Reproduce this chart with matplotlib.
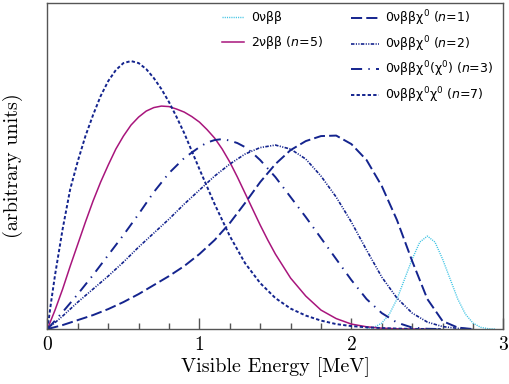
import matplotlib
matplotlib.use('Agg')
import matplotlib.pyplot as plt
from matplotlib.ticker import MultipleLocator

plt.rcParams['lines.scale_dashes'] = False
plt.rcParams['mathtext.fontset'] = 'dejavusans'

# visible energy [MeV] vs. spectrum height (arbitrary units)
e_0nu = [2.1, 2.15, 2.2, 2.25, 2.3, 2.35, 2.4, 2.45, 2.5, 2.55, 2.6, 2.65, 2.7, 2.75, 2.8, 2.85, 2.9, 2.95]
s_0nu = [0.004, 0.018, 0.06, 0.15, 0.30, 0.50, 0.70, 0.87, 0.93, 0.87, 0.70, 0.50, 0.30, 0.15, 0.06, 0.018, 0.004, 0.0]

e_2nu = [0, 0.05, 0.1, 0.15, 0.2, 0.25, 0.3, 0.35, 0.4, 0.45, 0.5, 0.55, 0.6, 0.65, 0.7, 0.75, 0.8,
         0.85, 0.9, 0.95, 1.0, 1.05, 1.1, 1.15, 1.2, 1.25, 1.3, 1.35, 1.4, 1.45, 1.5, 1.6, 1.7, 1.8,
         1.9, 2.0, 2.1, 2.2, 2.3, 2.4, 2.5]
s_2nu = [0, 0.19, 0.40, 0.63, 0.85, 1.07, 1.28, 1.47, 1.64, 1.80, 1.93, 2.04, 2.12, 2.18, 2.215, 2.23, 2.225,
         2.20, 2.17, 2.125, 2.07, 1.995, 1.91, 1.80, 1.67, 1.52, 1.36, 1.20, 1.04, 0.89, 0.75, 0.51, 0.33, 0.19,
         0.105, 0.05, 0.023, 0.009, 0.003, 0.001, 0]

e_n1 = [0, 0.1, 0.2, 0.3, 0.4, 0.5, 0.6, 0.7, 0.8, 0.9, 1.0, 1.1, 1.2, 1.3, 1.4, 1.5, 1.6, 1.7, 1.8,
        1.9, 2.0, 2.1, 2.2, 2.3, 2.4, 2.5, 2.6, 2.7, 2.8]
s_n1 = [0, 0.04, 0.09, 0.14, 0.20, 0.27, 0.35, 0.44, 0.53, 0.63, 0.75, 0.89, 1.06, 1.26, 1.47, 1.65, 1.79, 1.88, 1.93,
        1.935, 1.85, 1.69, 1.43, 1.09, 0.68, 0.30, 0.08, 0.015, 0]

e_n2 = [0, 0.1, 0.2, 0.3, 0.4, 0.5, 0.6, 0.7, 0.8, 0.9, 1.0, 1.1, 1.2, 1.3, 1.4, 1.5, 1.6, 1.7, 1.8,
        1.9, 2.0, 2.1, 2.2, 2.3, 2.4, 2.5, 2.6, 2.7, 2.8]
s_n2 = [0, 0.13, 0.27, 0.40, 0.53, 0.67, 0.82, 0.96, 1.10, 1.25, 1.39, 1.53, 1.65, 1.75, 1.815, 1.84, 1.80, 1.70, 1.53,
        1.32, 1.07, 0.79, 0.52, 0.31, 0.16, 0.07, 0.025, 0.007, 0]

e_n3 = [0, 0.1, 0.2, 0.3, 0.4, 0.5, 0.6, 0.7, 0.8, 0.9, 1.0, 1.05, 1.1, 1.15, 1.2, 1.25, 1.3, 1.35, 1.4,
        1.5, 1.6, 1.7, 1.8, 1.9, 2.0, 2.1, 2.2, 2.3, 2.4, 2.5, 2.6]
s_n3 = [0, 0.17, 0.35, 0.54, 0.74, 0.94, 1.15, 1.37, 1.56, 1.71, 1.82, 1.865, 1.89, 1.90, 1.885, 1.86, 1.82, 1.76, 1.69,
        1.52, 1.32, 1.12, 0.91, 0.70, 0.49, 0.30, 0.16, 0.065, 0.015, 0.003, 0]

e_n7 = [0, 0.025, 0.05, 0.1, 0.15, 0.2, 0.25, 0.3, 0.35, 0.4, 0.45, 0.5, 0.55, 0.6, 0.65, 0.7, 0.75, 0.8, 0.85,
        0.9, 1.0, 1.1, 1.2, 1.3, 1.4, 1.5, 1.6, 1.7, 1.8, 1.9, 2.0, 2.1, 2.2, 2.3, 2.4, 2.6]
s_n7 = [0, 0.28, 0.54, 1.00, 1.40, 1.68, 1.93, 2.14, 2.33, 2.48, 2.59, 2.66, 2.68, 2.66, 2.60, 2.51, 2.40, 2.27, 2.12,
        1.96, 1.60, 1.25, 0.93, 0.66, 0.46, 0.31, 0.205, 0.135, 0.085, 0.05, 0.03, 0.018, 0.01, 0.005, 0.002, 0]

NAVY = '#14248e'
CYAN = '#3fc4e4'
MAGENTA = '#a8157c'
GREY = '#555555'

fig = plt.figure(figsize=(5.1, 3.84), dpi=100)
ax = fig.add_axes([0.093, 0.143, 0.894, 0.849])

l0, = ax.plot(e_0nu, s_0nu, color=CYAN, lw=1.0, ls=(0, (0.8, 0.8)), label='0νββ')
l2, = ax.plot(e_2nu, s_2nu, color=MAGENTA, lw=1.1, label='2νββ ($n$=5)')
l1, = ax.plot(e_n1, s_n1, color=NAVY, lw=1.4, ls=(0, (8, 3)), label='0νββχ$^0$ ($n$=1)')
ln2, = ax.plot(e_n2, s_n2, color=NAVY, lw=1.2, ls=(0, (2.5, 1, 0.8, 1, 0.8, 1)),
               label='0νββχ$^0$ ($n$=2)')
l3, = ax.plot(e_n3, s_n3, color=NAVY, lw=1.4, ls=(0, (8, 4.5, 1, 4.5)),
              label='0νββχ$^0$(χ$^0$) ($n$=3)')
l7, = ax.plot(e_n7, s_n7, color=NAVY, lw=1.4, ls=(0, (2.4, 1.6)), label='0νββχ$^0$χ$^0$ ($n$=7)')

ax.set_xlim(0, 3)
ax.set_ylim(0, 3.26)
ax.set_yticks([])
ax.set_xticks([0, 1, 2, 3])
ax.xaxis.set_minor_locator(MultipleLocator(0.2))
ax.tick_params(axis='x', which='major', direction='in', length=8, width=1, color=GREY,
               labelsize=14, labelfontfamily='cmr10', pad=5)
ax.tick_params(axis='x', which='minor', direction='in', length=4, width=1, color=GREY)
for sp in ax.spines.values():
    sp.set_color(GREY)
    sp.set_linewidth(1.0)

ax.set_xlabel('Visible Energy [MeV]', fontsize=14.5, fontfamily='cmr10', labelpad=2)
ax.set_ylabel('(arbitrary units)', fontsize=14.5, fontfamily='cmr10')
ax.yaxis.set_label_coords(-0.053, 0.5)

leg_kw = dict(loc='upper left', frameon=False, borderpad=0, borderaxespad=0,
              prop={'family': 'DejaVu Sans', 'size': 9})
leg1 = ax.legend(handles=[l0, l2], bbox_to_anchor=(0.383, 0.976), handlelength=1.75,
                 handletextpad=0.6, labelspacing=0.8, **leg_kw)
ax.add_artist(leg1)
ax.legend(handles=[l1, ln2, l3, l7], bbox_to_anchor=(0.666, 0.983), handlelength=2.2,
          handletextpad=0.5, labelspacing=0.48, **leg_kw)

fig.savefig('out.png', dpi=100)
